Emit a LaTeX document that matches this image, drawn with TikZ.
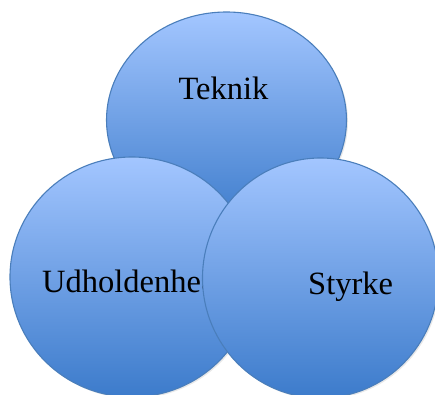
\documentclass[tikz,border=0pt]{standalone}
\usepackage{fontspec}
\setmainfont{Liberation Serif}
\usetikzlibrary{shapes.geometric,shadows}
\definecolor{cTop}{HTML}{A3C6FF}
\definecolor{cBot}{HTML}{3C7BCB}
\definecolor{cEdge}{HTML}{4A7EBB}
\tikzset{
  venn/.style={ellipse, draw=cEdge, line width=1.1pt, top color=cTop, bottom color=cBot,
    inner sep=0pt, drop shadow={opacity=0.18, shadow xshift=1.5pt, shadow yshift=-1.5pt}},
  lbl/.style={font=\fontsize{32.5}{36}\selectfont, text=black, inner sep=0pt}
}
\begin{document}
\begin{tikzpicture}[x=1pt,y=-1pt]
\useasboundingbox (0,0) rectangle (435,394);
\begin{scope}
\clip (0,0) rectangle (435,394);
\node[venn, minimum width=240pt, minimum height=216pt] (teknik) at (226.5,120) {};
\node[lbl, anchor=base] (tTeknik) at (223.5,99) {Teknik};
\node[venn, minimum width=244pt, minimum height=240pt] (udh) at (132,277) {};
\node[lbl, anchor=base west] (tUdh) at (42,292) {Udholdenhed};
\node[venn, minimum width=236pt, minimum height=240pt] (sty) at (320.5,278) {};
\node[lbl, anchor=base west] (tSty) at (308,294) {Styrke};
\end{scope}
\end{tikzpicture}
\end{document}
